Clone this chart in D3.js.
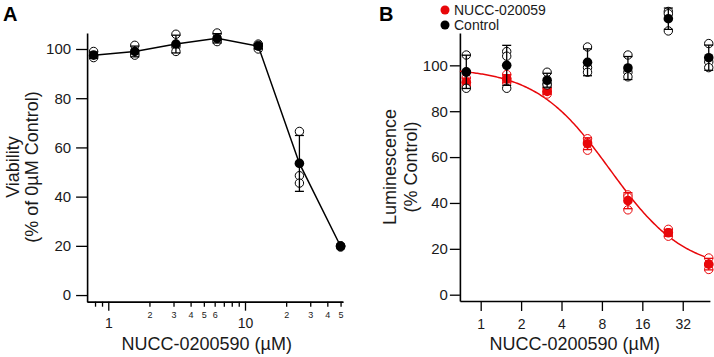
<!DOCTYPE html>
<html>
<head>
<meta charset="utf-8">
<script src="https://cdn.jsdelivr.net/npm/d3@7"></script>
<style>
  body { margin: 0; background: #fff; }
  svg { font-family: "Liberation Sans", Arial, Helvetica, sans-serif; }
</style>
</head>
<body>
<div id="chart"></div>
<script>
// concentrations (uM), 2-fold dilutions
const concA = [0.78125, 1.5625, 3.125, 6.25, 12.5, 25, 50];
const concB = [0.78125, 1.5625, 3.125, 6.25, 12.5, 25, 50];

// triplicates
const viabilityReps = [[99, 97, 96.5], [101.5, 98, 97.5], [106, 101, 99], [106.5, 103.5, 103],
  [102, 100, 101.5], [66.5, 48.5, 45.5], [20, 19.5, 20]];
const nuccReps = [[94.5, 92.5, 91], [96, 94, 92.5], [90, 88.5, 87.5], [68, 66.5, 63],
  [43.5, 42.5, 37], [28.5, 27, 25.5], [16, 13, 11]];
const controlReps = [[104.5, 97, 90], [106, 104, 90], [97, 92, 91.5], [108, 99, 97],
  [104.5, 97, 95], [123.5, 122.5, 115], [109.5, 101.5, 99]];

// 4PL fit for NUCC: top, bottom, IC50, hill
const fitNucc = [99, 10, 9.2, 1.56];

const yTicks = [0, 20, 40, 60, 80, 100];
const xTicksA = [1, 10];
const xMinorA = [0.8, 0.9, 2, 3, 4, 5, 6, 7, 8, 9, 20, 30, 40, 50];
const xMinorLabelledA = [2, 3, 4, 5, 6, 20, 30, 40, 50];
const xTicksB = [1, 2, 4, 8, 16, 32];

const svg = d3.select('#chart').append('svg')
  .attr('width', 714)
  .attr('height', 357);

function summarize(conc, reps) {
  return conc.map((c, i) => ({
    conc: c,
    reps: reps[i],
    mean: d3.mean(reps[i]),
    sd: d3.deviation(reps[i])
  }));
}

function drawSeries(g, data, x, y, colour) {
  // replicates as open circles
  g.selectAll(null)
    .data(data.flatMap(d => d.reps.map(v => ({ conc: d.conc, v }))))
    .join('circle')
    .attr('cx', d => x(d.conc))
    .attr('cy', d => y(d.v))
    .attr('r', 4.2)
    .attr('fill', '#fff')
    .attr('stroke', colour)
    .attr('stroke-width', 1);

  // SD error bars
  const eb = g.selectAll(null).data(data).join('g').attr('stroke', colour).attr('stroke-width', 1.3);
  eb.append('line')
    .attr('x1', d => x(d.conc)).attr('x2', d => x(d.conc))
    .attr('y1', d => y(d.mean - d.sd)).attr('y2', d => y(d.mean + d.sd));
  eb.append('line')
    .attr('x1', d => x(d.conc) - 4.5).attr('x2', d => x(d.conc) + 4.5)
    .attr('y1', d => y(d.mean + d.sd)).attr('y2', d => y(d.mean + d.sd));
  eb.append('line')
    .attr('x1', d => x(d.conc) - 4.5).attr('x2', d => x(d.conc) + 4.5)
    .attr('y1', d => y(d.mean - d.sd)).attr('y2', d => y(d.mean - d.sd));
}

function drawMeans(g, data, x, y, colour) {
  g.selectAll(null)
    .data(data)
    .join('circle')
    .attr('cx', d => x(d.conc))
    .attr('cy', d => y(d.mean))
    .attr('r', 4.8)
    .attr('fill', colour);
}

function styleAxis(g, fontSize) {
  g.select('.domain').attr('stroke', '#000').attr('stroke-width', 1.6);
  g.selectAll('.tick line').attr('stroke', '#000').attr('stroke-width', 1.3);
  g.selectAll('.tick text').attr('fill', '#1a1a1a').style('font-size', fontSize + 'px')
    .style('font-family', '"Liberation Sans", Arial, Helvetica, sans-serif');
}

// ---------- Panel A ----------
const xA = d3.scaleLog().domain([0.7, 52]).range([87.1, 342.9]);
const yA = d3.scaleLinear().domain([-2.7, 106.5]).range([301.7, 33]);
const dataA = summarize(concA, viabilityReps);

const gA = svg.append('g');

gA.append('g')
  .attr('transform', `translate(0,${yA(-2.7)})`)
  .call(d3.axisBottom(xA).tickValues(xMinorA).tickSizeInner(5).tickSizeOuter(0).tickPadding(5)
    .tickFormat(d => xMinorLabelledA.includes(d) ? String(d).charAt(0) : ''))
  .call(g => styleAxis(g, 9));

gA.append('g')
  .attr('transform', `translate(0,${yA(-2.7)})`)
  .call(d3.axisBottom(xA).tickValues(xTicksA).tickSizeInner(9).tickSizeOuter(0).tickPadding(7)
    .tickFormat(d3.format('d')))
  .call(g => styleAxis(g, 14));

gA.append('g')
  .attr('transform', `translate(${xA(0.7)},0)`)
  .call(d3.axisLeft(yA).tickValues(yTicks).tickSizeInner(11).tickSizeOuter(0).tickPadding(5))
  .call(g => styleAxis(g, 15));

drawSeries(gA, dataA, xA, yA, '#000');

gA.append('path')
  .datum(dataA)
  .attr('fill', 'none')
  .attr('stroke', '#000')
  .attr('stroke-width', 1.5)
  .attr('d', d3.line().x(d => xA(d.conc)).y(d => yA(d.mean)));

drawMeans(gA, dataA, xA, yA, '#000');

gA.append('text')
  .attr('x', 206.7).attr('y', 350)
  .attr('text-anchor', 'middle')
  .style('font-size', '18px')
  .attr('fill', '#1a1a1a')
  .text('NUCC-0200590 (µM)');

const yTitleA = gA.append('text')
  .attr('transform', 'translate(0,167) rotate(-90)')
  .attr('text-anchor', 'middle')
  .style('font-size', '18px')
  .attr('fill', '#1a1a1a');
yTitleA.append('tspan').attr('x', 0).attr('y', 19).text('Viability');
yTitleA.append('tspan').attr('x', 0).attr('y', 38).text('(% of 0µM Control)');

gA.append('text')
  .attr('x', 3).attr('y', 21)
  .style('font-size', '20px').style('font-weight', 'bold')
  .text('A');

// ---------- Panel B ----------
const xB = d3.scaleLog().base(2).domain([0.7, 51]).range([459.9, 709.9]);
const yB = d3.scaleLinear().domain([-2.75, 114.1]).range([301, 33]);
const nuccData = summarize(concB, nuccReps);
const controlData = summarize(concB, controlReps);

const gB = svg.append('g');

gB.append('g')
  .attr('transform', `translate(0,${yB(-2.75)})`)
  .call(d3.axisBottom(xB).tickValues(xTicksB).tickSizeInner(10).tickSizeOuter(0).tickPadding(8)
    .tickFormat(d3.format('d')))
  .call(g => styleAxis(g, 14));

gB.append('g')
  .attr('transform', `translate(${xB(0.7)},0)`)
  .call(d3.axisLeft(yB).tickValues(yTicks).tickSizeInner(10).tickSizeOuter(0).tickPadding(2))
  .call(g => styleAxis(g, 15));

// fitted dose-response curve
const [fitTop, fitBottom, fitIC50, fitHill] = fitNucc;
const curveX = d3.range(0, 201).map(i => Math.pow(2, Math.log2(0.7) + i / 200 * (Math.log2(50) - Math.log2(0.7))));
gB.append('path')
  .datum(curveX)
  .attr('fill', 'none')
  .attr('stroke', '#e8070a')
  .attr('stroke-width', 1.5)
  .attr('d', d3.line().x(c => xB(c))
    .y(c => yB(fitBottom + (fitTop - fitBottom) / (1 + Math.pow(c / fitIC50, fitHill)))));

drawSeries(gB, nuccData, xB, yB, '#e8070a');
drawMeans(gB, nuccData, xB, yB, '#e8070a');
drawSeries(gB, controlData, xB, yB, '#000');
drawMeans(gB, controlData, xB, yB, '#000');

gB.append('text')
  .attr('x', 574.7).attr('y', 350)
  .attr('text-anchor', 'middle')
  .style('font-size', '18px')
  .attr('fill', '#1a1a1a')
  .text('NUCC-0200590 (µM)');

const yTitleB = gB.append('text')
  .attr('transform', 'translate(0,167) rotate(-90)')
  .attr('text-anchor', 'middle')
  .style('font-size', '18px')
  .attr('fill', '#1a1a1a');
yTitleB.append('tspan').attr('x', 0).attr('y', 396).text('Luminescence');
yTitleB.append('tspan').attr('x', 0).attr('y', 417).text('(% Control)');

gB.append('text')
  .attr('x', 379).attr('y', 21)
  .style('font-size', '20px').style('font-weight', 'bold')
  .text('B');

// legend
const legend = [['NUCC-020059', '#e8070a'], ['Control', '#000']];
const lg = gB.selectAll('.legend')
  .data(legend)
  .join('g')
  .attr('class', 'legend')
  .attr('transform', (d, i) => `translate(445,${10 + i * 15})`);
lg.append('circle').attr('r', 4.5).attr('fill', d => d[1]);
lg.append('text')
  .attr('x', 9).attr('y', 5)
  .style('font-size', '14px')
  .attr('fill', '#1a1a1a')
  .text(d => d[0]);
</script>
</body>
</html>
